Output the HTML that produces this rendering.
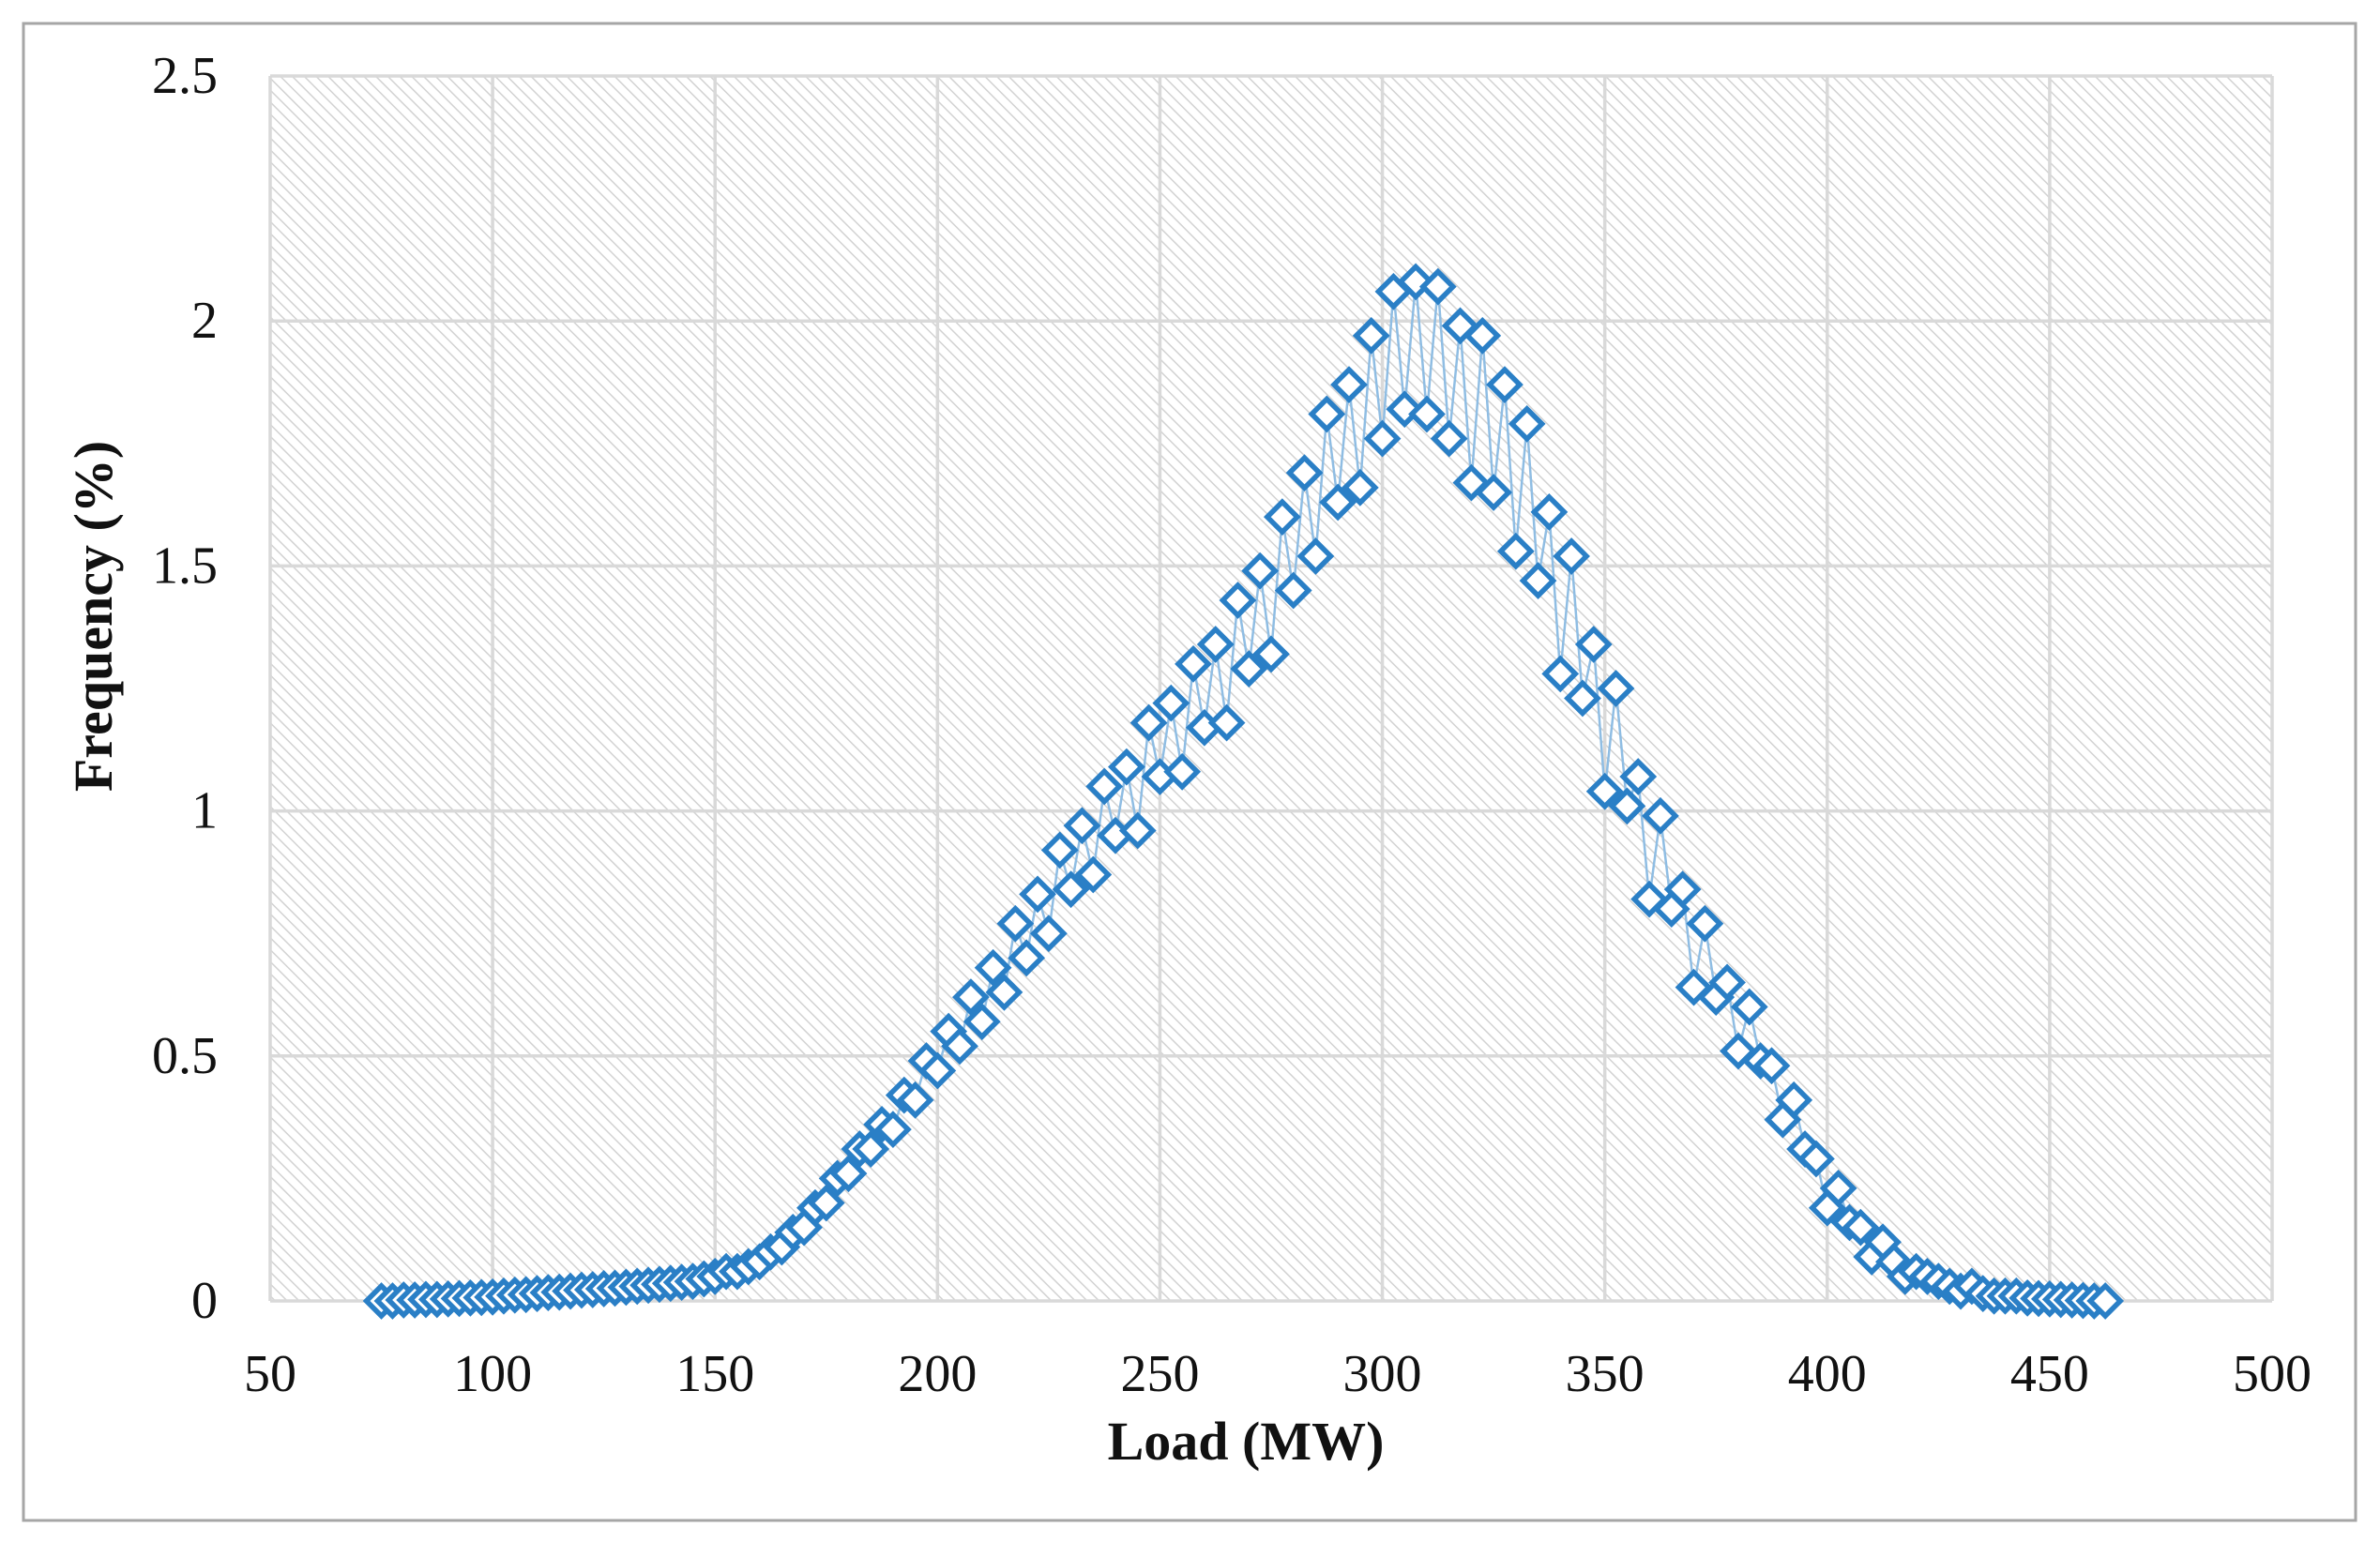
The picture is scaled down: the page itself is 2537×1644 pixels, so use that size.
<!DOCTYPE html>
<html><head><meta charset="utf-8"><style>
html,body{margin:0;padding:0;background:#fff;}
svg{display:block;}
text{font-family:"Liberation Serif",serif;fill:#111;}
</style></head><body>
<svg id="chart" width="2537" height="1644" viewBox="0 0 2537 1644">
<defs>
<pattern id="hatch" patternUnits="userSpaceOnUse" width="9" height="9" patternTransform="rotate(-45)">
<rect width="9" height="9" fill="#ffffff"/>
<line x1="0" y1="0" x2="0" y2="9" stroke="#d2d2d2" stroke-width="3"/>
</pattern>
</defs>
<rect x="25" y="25" width="2486" height="1596" fill="#fff" stroke="#a6a6a6" stroke-width="3"/>
<rect x="288" y="81" width="2134" height="1306" fill="url(#hatch)"/>
<g id="grid"></g>
<g id="series"></g>
<g id="axes"></g>
<text x="1328" y="1556" text-anchor="middle" font-size="58" font-weight="bold">Load (MW)</text>
<text transform="translate(119,657) rotate(-90)" text-anchor="middle" font-size="58" font-weight="bold">Frequency (%)</text>
</svg>
<script>
const xTicks = [50,100,150,200,250,300,350,400,450,500];
const yTicks = [0,0.5,1,1.5,2,2.5];
const yTickLabels = ["0","0.5","1","1.5","2","2.5"];
const loadStart = 75;
const loadStep = 2.5;
const frequency = [
0,0,0.002,0.002,0.003,0.003,0.004,0.005,0.006,0.007,0.008,0.01,0.012,0.013,0.015,0.017,0.018,0.02,0.022,0.023,0.025,0.026,0.028,0.03,0.032,0.034,0.036,0.038,0.04,0.045,
0.05,0.06,0.06,0.07,0.08,0.10,0.11,0.14,0.15,0.19,0.20,0.25,0.26,0.31,0.31,0.36,0.35,0.42,0.41,0.49,0.47,0.55,0.52,0.62,0.57,0.68,0.63,0.77,0.70,0.83,0.75,0.92,0.84,0.97,0.87,1.05,0.95,1.09,0.96,1.18,1.07,1.22,1.08,1.30,1.17,1.34,1.18,1.43,1.29,1.49,1.32,1.60,1.45,1.69,1.52,1.81,1.63,1.87,1.66,1.97,
1.76,2.06,1.82,2.08,1.81,2.07,1.76,1.99,1.67,1.97,1.65,1.87,1.53,1.79,1.47,1.61,1.28,1.52,1.23,1.34,1.04,1.25,1.01,1.07,0.82,0.99,0.80,0.84,0.64,0.77,0.62,0.65,0.51,0.60,0.49,0.48,0.37,0.41,0.31,0.29,0.19,
0.23,0.16,0.15,0.09,0.12,0.08,0.05,0.06,0.05,0.04,0.03,0.02,0.03,0.015,0.01,0.01,0.01,0.006,0.005,0.004,0.003,0.002,0.001,0,0
];
const loads = frequency.map((_, i) => loadStart + i * loadStep);

const X0 = 288, X1 = 2422, Y0 = 1387, Y1 = 81;
function sx(v){ return X0 + (v - 50) / (500 - 50) * (X1 - X0); }
function sy(v){ return Y0 - v / 2.5 * (Y0 - Y1); }
const NS = "http://www.w3.org/2000/svg";
function mk(tag, attrs, parent){ const e = document.createElementNS(NS, tag); for (const k in attrs) e.setAttribute(k, attrs[k]); parent.appendChild(e); return e; }

const grid = document.getElementById('grid');
const axes = document.getElementById('axes');
xTicks.forEach(t => {
  const l = mk('line', {x1: sx(t), x2: sx(t), y1: Y1, y2: Y0, stroke: '#d9d9d9', 'stroke-width': 3.5}, grid);
  
  
  const tx = mk('text', {x: sx(t), y: 1483, 'text-anchor': 'middle', 'font-size': 56}, axes);
  tx.textContent = String(t);
  
  
});
yTicks.forEach((t, i) => {
  const l = mk('line', {x1: X0, x2: X1, y1: sy(t), y2: sy(t), stroke: '#d9d9d9', 'stroke-width': 3.5}, grid);
  
  
  const tx = mk('text', {x: 232, y: sy(t) + 18, 'text-anchor': 'end', 'font-size': 56}, axes);
  tx.textContent = yTickLabels[i];
  
  
});

const series = document.getElementById('series');
const pts = loads.map((x, i) => sx(x).toFixed(1) + ',' + sy(frequency[i]).toFixed(1)).join(' ');
const line = mk('polyline', {points: pts, fill: 'none', stroke: '#8fbde3', 'stroke-width': 2.5}, series);


const r = 16;
loads.forEach((x, i) => {
  const cx = sx(x), cy = sy(frequency[i]);
  const p = mk('polygon', {points: `${cx},${cy-r} ${cx+r},${cy} ${cx},${cy+r} ${cx-r},${cy}`, fill: '#fff', stroke: '#2a7fc6', 'stroke-width': 5.5}, series);
  
  
});
</script>
</body></html>
